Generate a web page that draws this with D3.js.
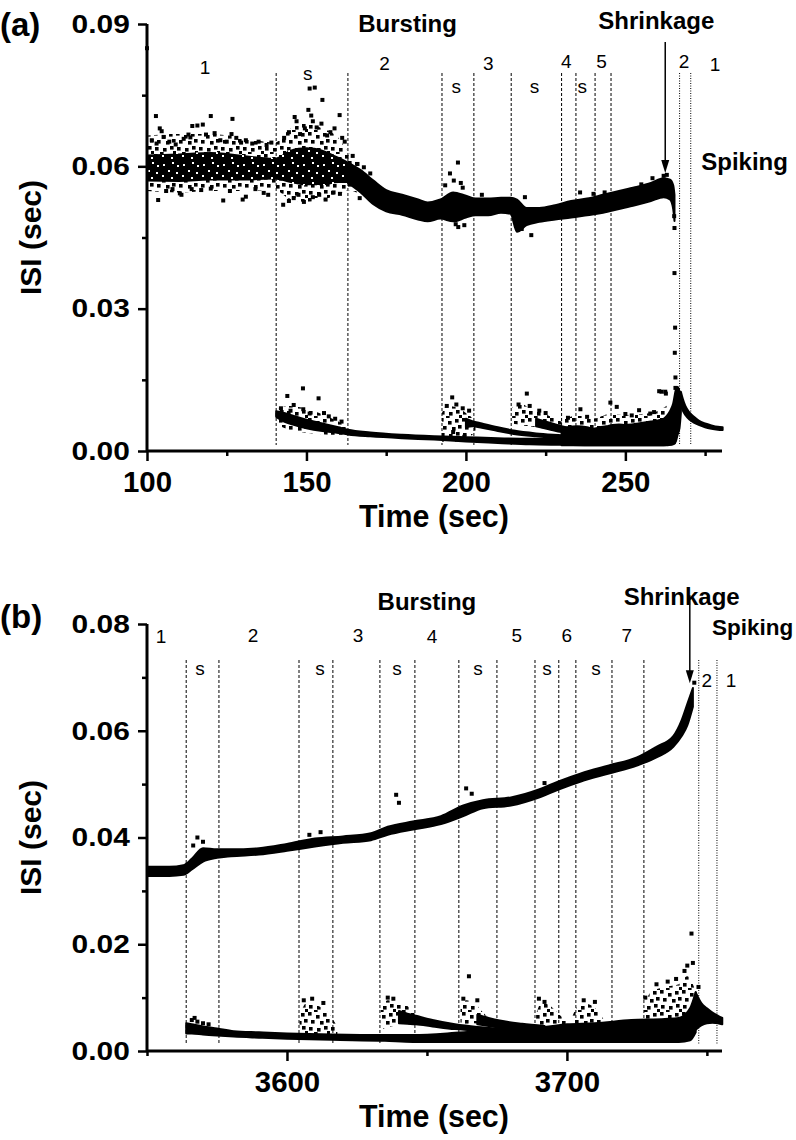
<!DOCTYPE html>
<html>
<head>
<meta charset="utf-8">
<script src="https://cdn.jsdelivr.net/npm/d3@7"></script>
<style>
  body { margin: 0; background: #fff; }
  text { font-family: "Liberation Sans", Arial, sans-serif; fill: #000; }
</style>
</head>
<body>
<script>
// ---------- panel (a) data ----------
const aTicksX = [100, 150, 200, 250];
const aMinorX = [125, 175, 225, 275];
const aTicksY = [0, 0.03, 0.06, 0.09];
const aMinorY = [0.015, 0.045, 0.075];
const aDash = [140.5, 163, 192.5, 202.5, 214.2, 230, 234.5, 240.5, 245.5];
const aDot = [267, 270.5];

// noisy cloud before / during the first "s" period (halo + core)
const aHaloT  = [100, 110, 120, 130, 140, 145, 150, 155, 160, 163, 167];
const aHaloLo = [.0548, .0545, .0548, .0548, .0550, .0530, .0525, .0530, .0540, .0550, .0540];
const aHaloHi = [.0665, .0668, .0668, .0660, .0650, .0680, .0690, .0680, .0660, .0630, .0600];
const aCoreT  = [100, 110, 120, 130, 140, 145, 150, 155, 160, 163, 167];
const aCoreLo = [.0568, .0567, .0570, .0570, .0572, .0565, .0560, .0560, .0565, .0565, .0550];
const aCoreHi = [.0625, .0627, .0630, .0624, .0618, .0635, .0640, .0635, .0620, .0610, .0590];

// upper band after the first "s" period: time, low edge, high edge
const aUpT  = [163, 167, 171, 175, 180, 185, 188, 192, 196, 200, 203, 207, 211, 214, 216, 219, 223, 228, 233, 238, 243, 248, 253, 258, 262, 264, 265, 265.4];
const aUpLo = [.0565, .0545, .0520, .0505, .0498, .0488, .0484, .0490, .0484, .0492, .0497, .0497, .0502, .0500, .0462, .0476, .0483, .0488, .0492, .0497, .0502, .0510, .0518, .0527, .0535, .0530, .0510, .0485];
const aUpHi = [.0608, .0592, .0570, .0550, .0540, .0530, .0524, .0530, .0545, .0538, .0532, .0532, .0534, .0534, .0530, .0512, .0512, .0518, .0527, .0532, .0540, .0548, .0556, .0565, .0575, .0572, .0560, .0540];

// scattered upper points [time, ISI]
const aUpPts = [
  [100, .0849], [102.8, .0706], [104, .068], [104.6, .0674], [105.2, .0662], [101.5, .0655], [103, .0648],
  [107, .0652], [109, .0646], [111.5, .0658], [113, .0667], [113.6, .0661], [114.2, .0685], [115.8, .0686], [117.5, .0688],
  [118.5, .0667], [120, .0706], [121.2, .0670], [123, .0655], [125, .0652], [126.8, .0700], [126.5, .0668], [128, .0660],
  [129.5, .0650], [131, .0655], [133, .0648], [135, .0652], [137.5, .0645], [139, .0650],
  [103.5, .0529], [106, .0548], [108, .0552], [110.3, .0543], [110.8, .0540], [114, .0552], [117, .0550], [120, .0553],
  [123.9, .0528], [126, .0548], [130, .0530], [131, .0536], [134, .0552], [136.6, .0544], [138, .0540],
  [142.7, .0519], [144.5, .0527], [146, .0533], [147.5, .0540], [149.2, .0525], [152, .0535], [154, .0540],
  [156, .0530], [158.5, .0545], [160.5, .0542], [166.7, .0533],
  [143, .0660], [144.5, .0672], [146.3, .0704], [146.9, .0695], [148, .0668], [149.5, .0680], [150.6, .0719],
  [151, .0764], [151.5, .0707], [152, .0695], [152.6, .0766], [153.2, .0682], [154.7, .0690], [155, .0740],
  [156.5, .0665], [157.5, .0672], [158.8, .0680], [160.4, .0708], [161.2, .0660], [162, .0652], [164.5, .0622],
  [166, .0605], [168, .0598], [170, .0585],
  [193.5, .0560], [195, .0585], [196.2, .0570], [197.5, .0608], [198.4, .0565], [199, .0555], [196.8, .0478],
  [197.6, .0472], [199.5, .0476], [205, .0540], [217.5, .0468], [220.5, .0455], [218.5, .0535],
  [235.8, .0545], [240, .0542], [243.5, .0545], [255, .0562], [258.5, .0575], [262, .0580], [263, .0582],
  // the drop from bursting to spiking
  [265.3, .0495], [265.4, .0470], [265.4, .0375], [265.6, .0260], [265.5, .0207], [265.7, .0155], [265.7, .0133],
  [260.6, .0126], [262.5, .0125]
];

// lower (intra-burst) structures, solid
const aBaseT  = [140.5, 143, 146, 150, 155, 160, 163, 170, 180, 190, 200, 210, 220, 230, 240, 250, 258, 262, 264, 265.5];
const aBaseLo = [.0072, .0062, .0055, .0048, .0042, .0038, .0035, .0031, .0027, .0024, .0020, .0017, .0014, .0013, .0012, .0012, .0012, .0012, .0013, .0016];
const aBaseHi = [.0084, .0080, .0074, .0066, .0058, .0050, .0045, .0039, .0034, .0031, .0029, .0027, .0026, .0026, .0028, .0030, .0030, .0032, .0036, .0045];

const aT2T  = [200, 202, 205, 210, 215, 222, 230, 238];
const aT2Lo = [.0050, .0052, .0049, .0042, .0036, .0031, .0027, .0024];
const aT2Hi = [.0068, .0063, .0058, .0050, .0043, .0037, .0033, .0029];

const aT3T  = [222, 226, 230, 235, 240, 245, 250];
const aT3Lo = [.0052, .0046, .0040, .0036, .0033, .0030, .0027];
const aT3Hi = [.0068, .0060, .0052, .0045, .0040, .0036, .0033];

const aDenseT  = [230, 232, 235, 238, 240, 242, 244, 246, 248, 250, 252, 254, 256, 258, 260, 262, 263, 264, 265, 265.8, 266.4, 267, 267.4];
const aDenseLo = [.0012, .0012, .0012, .0012, .0012, .0012, .0012, .0012, .0012, .0012, .0012, .0012, .0012, .0012, .0012, .0012, .0012, .0013, .0014, .0020, .0035, .0050, .0080];
const aDenseHi = [.0045, .0050, .0052, .0050, .0047, .0050, .0052, .0055, .0056, .0055, .0056, .0058, .0060, .0062, .0064, .0068, .0074, .0084, .0100, .0128, .0135, .0125, .0110];

const aSpikeT  = [267.4, 268, 268.8, 270, 271.5, 273, 275, 277, 279, 280.5];
const aSpikeLo = [.0095, .0085, .0076, .0067, .0060, .0055, .0050, .0047, .0045, .0044];
const aSpikeHi = [.0125, .0110, .0095, .0082, .0072, .0064, .0058, .0054, .0051, .0050];

// lower burst clouds (speckled)
const aC1T  = [141, 144, 148, 152, 156, 160, 163];
const aC1Lo = [.0055, .0046, .0040, .0037, .0035, .0034, .0034];
const aC1Hi = [.0088, .0095, .0092, .0085, .0075, .0062, .0050];
const aC2T  = [192.5, 194, 197, 200, 203];
const aC2Lo = [.0020, .0018, .0020, .0025, .0040];
const aC2Hi = [.0080, .0095, .0092, .0080, .0065];
const aC3T  = [214.5, 217, 220, 224, 228, 231];
const aC3Lo = [.0058, .0055, .0052, .0048, .0043, .0040];
const aC3Hi = [.0092, .0100, .0090, .0080, .0068, .0058];
const aC4T  = [230, 235, 240, 245, 250, 255, 260, 264];
const aC4Lo = [.0035, .0040, .0040, .0040, .0040, .0042, .0045, .0050];
const aC4Hi = [.0065, .0075, .0068, .0078, .0076, .0078, .0084, .0100];

const aLowPts = [
  [142, .0090], [144, .0116], [146, .0097], [148.9, .0132], [151, .0079], [153.8, .0111], [149, .0088],
  [155.5, .0080], [157, .0073], [145, .0085], [159, .0068], [161, .0062],
  [195.7, .0113], [194, .0095], [197, .0098], [199, .0090], [201, .0085], [196, .0040], [199.5, .0030],
  [219.1, .0121], [216.5, .0098], [220, .0095], [223, .0085], [225, .0080],
  [235.9, .0088], [245.3, .0102], [247.3, .0093], [254.3, .0086], [257.8, .0079], [261.3, .0125], [262.7, .0121],
  [232, .0070], [238, .0072], [250, .0078], [252, .0075], [259, .0082]
];

// ---------- panel (b) data ----------
const bTicksX = [3600, 3700];
const bMinorX = [3550, 3650, 3750];
const bTicksY = [0, 0.02, 0.04, 0.06, 0.08];
const bMinorY = [0.01, 0.03, 0.05, 0.07];
const bDash = [3564, 3575.7, 3604.3, 3616.4, 3633.2, 3645.7, 3661.4, 3675, 3688.6, 3697.1, 3703.2, 3716.1, 3727.5];
const bDot = [3747.1, 3753.6];

const bUpT  = [3550, 3558, 3563, 3566, 3570, 3575, 3580, 3590, 3600, 3610, 3620, 3630, 3636, 3645, 3655, 3663, 3670, 3680, 3690, 3697, 3705, 3715, 3725, 3732, 3738, 3741, 3743, 3745];
const bUpLo = [.0328, .0328, .0330, .0340, .0355, .0362, .0365, .0368, .0375, .0383, .0390, .0395, .0405, .0415, .0425, .0440, .0455, .0460, .0475, .0490, .0505, .0520, .0535, .0550, .0570, .0590, .0610, .0645];
const bUpHi = [.0345, .0345, .0348, .0360, .0380, .0378, .0378, .0380, .0388, .0398, .0402, .0408, .0420, .0430, .0440, .0460, .0470, .0475, .0490, .0505, .0520, .0535, .0550, .0570, .0590, .0620, .0650, .0680];

const bUpPts = [
  [3568, .0400], [3570, .0392], [3566.5, .0385], [3608, .0405], [3612, .0410], [3639, .0480], [3640, .0465],
  [3664, .0492], [3666, .0482], [3692, .0502], [3745.5, .0690]
];

// lower structures, solid
const bBaseT  = [3564, 3566, 3570, 3575, 3581, 3590, 3600, 3616, 3635, 3645, 3660, 3676, 3692, 3700, 3710, 3723, 3735, 3740, 3744, 3746];
const bBaseLo = [.0033, .0033, .0031, .0029, .0027, .0025, .0023, .0021, .0019, .0017, .0017, .0017, .0017, .0017, .0017, .0017, .0017, .0017, .0020, .0035];
const bBaseHi = [.0052, .0050, .0046, .0042, .0037, .0035, .0033, .0031, .0030, .0030, .0034, .0041, .0045, .0050, .0052, .0058, .0060, .0062, .0080, .0110];

const bW1T  = [3640, 3643, 3646, 3652, 3660, 3668, 3676];
const bW1Lo = [.0052, .0051, .0050, .0046, .0041, .0038, .0036];
const bW1Hi = [.0075, .0070, .0066, .0058, .0050, .0045, .0042];

const bW2T  = [3668, 3672, 3676, 3684, 3692];
const bW2Lo = [.0050, .0047, .0044, .0041, .0039];
const bW2Hi = [.0068, .0062, .0057, .0051, .0047];

const bEndT  = [3746, 3748, 3750, 3752, 3754, 3755.5];
const bEndLo = [.0040, .0048, .0052, .0053, .0052, .0050];
const bEndHi = [.0110, .0090, .0080, .0072, .0066, .0062];

// lower burst clouds (speckled)
const bC1T  = [3604.5, 3607, 3611, 3615, 3618];
const bC1Lo = [.0030, .0030, .0030, .0030, .0030];
const bC1Hi = [.0065, .0090, .0085, .0070, .0045];
const bC2T  = [3633.5, 3636, 3640, 3644, 3646];
const bC2Lo = [.0040, .0045, .0048, .0050, .0050];
const bC2Hi = [.0080, .0095, .0092, .0080, .0068];
const bC3T  = [3662, 3664, 3667, 3670, 3674];
const bC3Lo = [.0045, .0050, .0052, .0048, .0042];
const bC3Hi = [.0080, .0095, .0090, .0072, .0055];
const bC4T  = [3689, 3691, 3694, 3697, 3700];
const bC4Lo = [.0040, .0045, .0045, .0045, .0045];
const bC4Hi = [.0070, .0090, .0085, .0070, .0055];
const bC5T  = [3702, 3705, 3709, 3713];
const bC5Lo = [.0045, .0048, .0050, .0050];
const bC5Hi = [.0065, .0090, .0085, .0060];
const bC6T  = [3727.5, 3730, 3735, 3740, 3743, 3745, 3746.5];
const bC6Lo = [.0050, .0055, .0055, .0055, .0055, .0050, .0040];
const bC6Hi = [.0085, .0110, .0120, .0125, .0140, .0125, .0100];

const bLowPts = [
  [3566, .0058], [3568, .0055], [3570, .0052], [3572, .0050], [3567, .0062], [3606, .0095], [3609, .0098],
  [3613, .0090], [3636, .0100], [3638, .0098], [3663, .0098], [3665, .0140], [3668, .0095], [3690, .0098],
  [3692, .0092], [3706, .0095], [3710, .0092], [3728, .0100], [3732, .0125], [3736, .0130], [3739, .0135],
  [3742, .0150], [3743, .0160], [3744.5, .0220], [3745, .0165], [3747, .0120]
];

// ---------- drawing ----------
const W = 796, H = 1140;
const svg = d3.select("body").append("svg").attr("width", W).attr("height", H);

// speckle textures for the noisy point clouds
const defs = svg.append("defs");
const sparse = defs.append("pattern").attr("id", "sparse")
  .attr("patternUnits", "userSpaceOnUse").attr("width", 22).attr("height", 22);
[[0, 0], [8, 3], [15, 1], [3, 8], [12, 9], [18, 7], [1, 15], [9, 16], [16, 14], [6, 20], [19, 19]]
  .forEach(p => sparse.append("rect").attr("x", p[0]).attr("y", p[1]).attr("width", 3.6).attr("height", 3.6).attr("fill", "#000"));
const dense = defs.append("pattern").attr("id", "dense")
  .attr("patternUnits", "userSpaceOnUse").attr("width", 20).attr("height", 20);
dense.append("rect").attr("width", 20).attr("height", 20).attr("fill", "#000");
[[3, 4], [12, 2], [8, 10], [16, 12], [2, 15], [11, 17], [17, 5]]
  .forEach(p => dense.append("rect").attr("x", p[0]).attr("y", p[1]).attr("width", 2).attr("height", 2).attr("fill", "#fff"));

function panel(opt) {
  const g = svg.append("g");
  const x = d3.scaleLinear().domain(opt.xDomain).range([147, 722]);
  const y = d3.scaleLinear().domain(opt.yDomain).range([opt.bottom, opt.top]);

  // dividers
  opt.dash.forEach(t => g.append("line")
    .attr("x1", x(t)).attr("x2", x(t)).attr("y1", opt.divTop).attr("y2", opt.bottom - 6)
    .attr("stroke", "#000").attr("stroke-width", 1).attr("stroke-dasharray", "3,2"));
  opt.dot.forEach(t => g.append("line")
    .attr("x1", x(t)).attr("x2", x(t)).attr("y1", opt.divTop).attr("y2", opt.bottom - 6)
    .attr("stroke", "#000").attr("stroke-width", 1).attr("stroke-dasharray", "1,1.5"));

  const area = d3.area().x(d => x(d.t)).y0(d => y(d.lo)).y1(d => y(d.hi)).curve(d3.curveMonotoneX);
  const rowsOf = b => b[0].map((t, i) => ({ t, lo: b[1][i], hi: b[2][i] }));
  opt.clouds.forEach(b => g.append("path").datum(rowsOf(b)).attr("d", area).attr("fill", "url(#sparse)"));
  opt.cores.forEach(b => g.append("path").datum(rowsOf(b)).attr("d", area).attr("fill", "url(#dense)"));
  opt.bands.forEach(b => g.append("path").datum(rowsOf(b)).attr("d", area)
    .attr("fill", "#000").attr("stroke", "#000").attr("stroke-width", 2).attr("stroke-linejoin", "round"));

  g.selectAll(null).data(opt.points).enter().append("rect")
    .attr("x", d => x(d[0]) - 2).attr("y", d => y(d[1]) - 2)
    .attr("width", 4).attr("height", 4).attr("fill", "#000");

  // axes
  const yAx = g.append("g").attr("transform", "translate(147,0)")
    .call(d3.axisLeft(y).tickValues(opt.ticksY).tickSize(9).tickPadding(6).tickFormat(d3.format(".2f")));
  g.append("g").attr("transform", "translate(147,0)")
    .call(d3.axisLeft(y).tickValues(opt.minorY).tickSize(5).tickFormat(""))
    .call(s => s.select(".domain").remove());
  const xAx = g.append("g").attr("transform", `translate(0,${opt.bottom})`)
    .call(d3.axisBottom(x).tickValues(opt.ticksX).tickSize(10).tickPadding(10).tickFormat(d3.format("d")));
  g.append("g").attr("transform", `translate(0,${opt.bottom})`)
    .call(d3.axisBottom(x).tickValues(opt.minorX).tickSize(5).tickFormat(""))
    .call(s => s.select(".domain").remove());

  g.selectAll(".domain").attr("stroke-width", 3);
  yAx.select(".domain").attr("d", `M0,${opt.top}V${opt.bottom}`);
  xAx.select(".domain").attr("d", `M147,0H722`);
  g.selectAll(".tick line").attr("stroke-width", 2.5);
  yAx.selectAll("text").attr("font-size", 26).attr("font-weight", "bold")
    .attr("transform", "scale(1.15,1)");
  xAx.selectAll("text").attr("font-size", 30).attr("font-weight", "bold")
    .attr("transform", "scale(0.98,1)");

  // titles
  g.append("text").attr("transform", `translate(41,${(opt.top + opt.bottom) / 2}) rotate(-90)`)
    .attr("text-anchor", "middle").attr("font-size", 30).attr("font-weight", "bold").text("ISI (sec)");
  g.append("text").attr("transform", `translate(434,${opt.titleY}) scale(0.95,1)`)
    .attr("text-anchor", "middle").attr("font-size", 32).attr("font-weight", "bold").text("Time (sec)");
  g.append("text").attr("x", 0).attr("y", opt.tagY)
    .attr("font-size", 33).attr("font-weight", "bold").text(opt.tag);

  // annotations
  opt.notes.forEach(n => g.append("text")
    .attr("x", x(n[1])).attr("y", y(n[2]))
    .attr("text-anchor", n[4] || "middle")
    .attr("font-size", n[3] || 19).attr("font-weight", n[3] ? "bold" : "normal").text(n[0]));

  const ar = opt.arrow;
  g.append("line").attr("x1", x(ar[0])).attr("x2", x(ar[0])).attr("y1", y(ar[1])).attr("y2", y(ar[2]) - 10)
    .attr("stroke", "#000").attr("stroke-width", 1.5);
  g.append("path")
    .attr("d", `M${x(ar[0]) - 4},${y(ar[2]) - 13}L${x(ar[0]) + 4},${y(ar[2]) - 13}L${x(ar[0])},${y(ar[2])}Z`)
    .attr("fill", "#000");
}

panel({
  xDomain: [100, 280.3], yDomain: [0, 0.09], top: 24, bottom: 451, divTop: 73,
  ticksX: aTicksX, minorX: aMinorX, ticksY: aTicksY, minorY: aMinorY,
  dash: aDash, dot: aDot, tag: "(a)", tagY: 36, titleY: 527,
  clouds: [[aHaloT, aHaloLo, aHaloHi], [aC1T, aC1Lo, aC1Hi], [aC2T, aC2Lo, aC2Hi], [aC3T, aC3Lo, aC3Hi], [aC4T, aC4Lo, aC4Hi]],
  cores: [[aCoreT, aCoreLo, aCoreHi]],
  bands: [[aUpT, aUpLo, aUpHi], [aBaseT, aBaseLo, aBaseHi], [aT2T, aT2Lo, aT2Hi], [aT3T, aT3Lo, aT3Hi],
          [aDenseT, aDenseLo, aDenseHi], [aSpikeT, aSpikeLo, aSpikeHi]],
  points: aUpPts.concat(aLowPts),
  notes: [["1", 118.2, .0795], ["s", 150.4, .0782], ["2", 174.5, .0803], ["s", 197, .0755], ["3", 207, .0803],
          ["s", 221.5, .0755], ["4", 231.5, .0807], ["s", 236.5, .0755], ["5", 242.5, .0807], ["2", 268.4, .0807],
          ["1", 278.1, .0801], ["Bursting", 181.7, .0883, 24], ["Shrinkage", 259.7, .0890, 24],
          ["Spiking", 273.8, .0592, 24, "start"]],
  arrow: [262.5, .0862, .0586]
});

panel({
  xDomain: [3550, 3755.4], yDomain: [0, 0.08], top: 624, bottom: 1051, divTop: 660,
  ticksX: bTicksX, minorX: bMinorX, ticksY: bTicksY, minorY: bMinorY,
  dash: bDash, dot: bDot, tag: "(b)", tagY: 628, titleY: 1127,
  clouds: [[bC1T, bC1Lo, bC1Hi], [bC2T, bC2Lo, bC2Hi], [bC3T, bC3Lo, bC3Hi], [bC4T, bC4Lo, bC4Hi],
           [bC5T, bC5Lo, bC5Hi], [bC6T, bC6Lo, bC6Hi]],
  cores: [],
  bands: [[bUpT, bUpLo, bUpHi], [bBaseT, bBaseLo, bBaseHi], [bW1T, bW1Lo, bW1Hi], [bW2T, bW2Lo, bW2Hi], [bEndT, bEndLo, bEndHi]],
  points: bUpPts.concat(bLowPts),
  notes: [["1", 3555, .0764], ["2", 3587.9, .0766], ["3", 3625.4, .0766], ["4", 3651.8, .0764], ["5", 3682.1, .0766],
          ["6", 3700, .0766], ["7", 3721.4, .0766], ["2", 3750, .0682], ["1", 3758.6, .0682],
          ["s", 3568.9, .0704], ["s", 3611.8, .0704], ["s", 3639.3, .0704], ["s", 3668.2, .0704],
          ["s", 3692.9, .0704], ["s", 3710.4, .0704],
          ["Bursting", 3650, .0826, 24], ["Shrinkage", 3741, .0836, 24], ["Spiking", 3751.8, .0779, 22.5, "start"]],
  arrow: [3743.9, .0854, .0689]
});
</script>
</body>
</html>
